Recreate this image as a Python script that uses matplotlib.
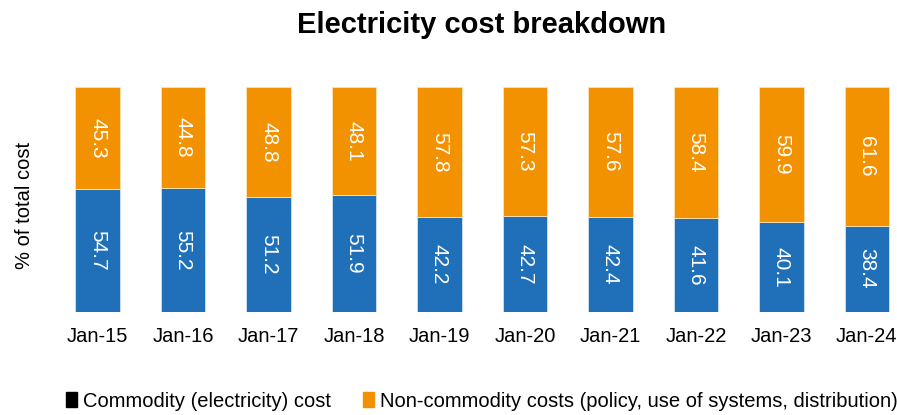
import matplotlib.pyplot as plt
from matplotlib.patches import Patch

plt.rcParams['font.family'] = ['Liberation Sans', 'DejaVu Sans']

labels = ['Jan-15', 'Jan-16', 'Jan-17', 'Jan-18', 'Jan-19',
          'Jan-20', 'Jan-21', 'Jan-22', 'Jan-23', 'Jan-24']
commodity = [54.7, 55.2, 51.2, 51.9, 42.2, 42.7, 42.4, 41.6, 40.1, 38.4]
non_commodity = [45.3, 44.8, 48.8, 48.1, 57.8, 57.3, 57.6, 58.4, 59.9, 61.6]

blue = '#1f70b8'
orange = '#f39200'

fig = plt.figure(figsize=(8.97, 4.15), dpi=100)
ax = fig.add_axes([60 / 897, 103 / 415, 835 / 897, 225 / 415])

x = range(len(labels))
ax.bar(x, commodity, width=0.52, color=blue, edgecolor='#d0e4f5', linewidth=0.6)
ax.bar(x, non_commodity, width=0.52, bottom=commodity, color=orange,
       edgecolor='#fbe2b8', linewidth=0.6)

for i in x:
    ax.text(i, commodity[i] / 2, f'{commodity[i]:.1f}', rotation=270,
            ha='center', va='center', color='white', fontsize=15)
    ax.text(i, commodity[i] + non_commodity[i] / 2, f'{non_commodity[i]:.1f}',
            rotation=270, ha='center', va='center', color='white', fontsize=15)

ax.set_xlim(-0.44, 9.33)
ax.set_ylim(0, 100)
ax.set_xticks(list(x))
ax.set_xticklabels(labels, fontsize=14.5)
ax.tick_params(axis='x', length=0, pad=11)
ax.set_yticks([])
for s in ax.spines.values():
    s.set_visible(False)

fig.text(25 / 897, 1 - 205 / 415, '% of total cost', rotation=90,
         ha='center', va='center', fontsize=14.5)
fig.suptitle('Electricity cost breakdown', x=482 / 897, y=1 - 25 / 415,
             va='center', fontsize=21, fontweight='bold')

handles = [Patch(color='black', label='Commodity (electricity) cost'),
           Patch(color=orange, label='Non-commodity costs (policy, use of systems, distribution)')]
fig.legend(handles=handles, loc='center', bbox_to_anchor=(482 / 897, 1 - 401 / 415),
           ncol=2, frameon=False, fontsize=14.5, handlelength=0.55, handleheight=0.8,
           handletextpad=0.3, columnspacing=1.6)

fig.savefig('out.png', dpi=100)
